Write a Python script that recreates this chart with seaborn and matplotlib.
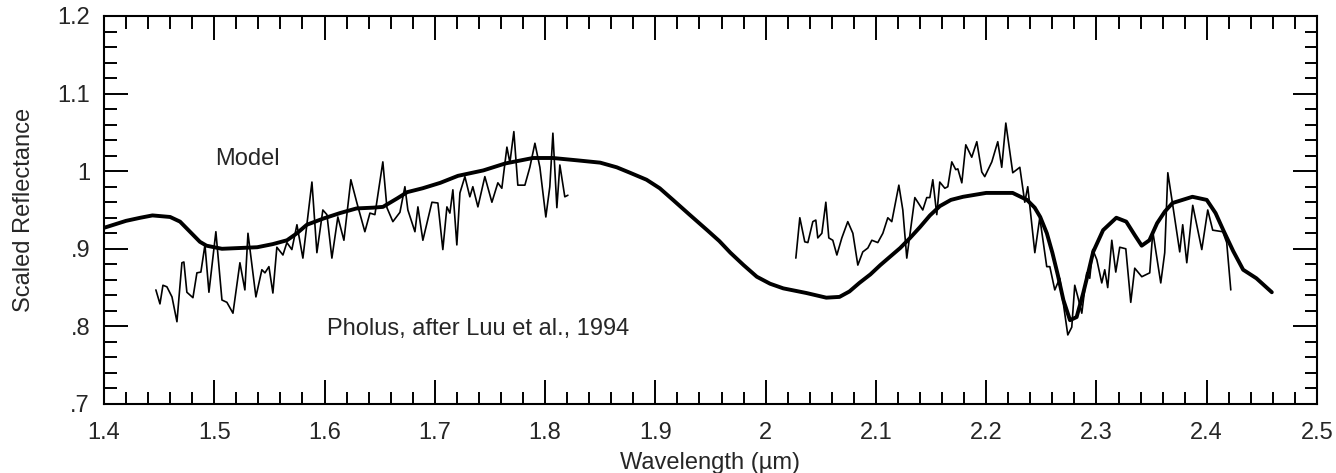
import numpy as np
import pandas as pd
import matplotlib
matplotlib.use("Agg")
import matplotlib.pyplot as plt
import seaborn as sns
from matplotlib.ticker import MultipleLocator

# =====================================
# Data
# =====================================

# Pholus spectrum, after Luu et al. 1994 (two pieces)
pholus_x1 = [1.4471, 1.4508, 1.4535, 1.4571, 1.4617, 1.4662, 1.4707, 1.4725,
             1.4752, 1.4807, 1.4843, 1.4879, 1.4916, 1.4952, 1.5015, 1.5070,
             1.5115, 1.5170, 1.5233, 1.5278, 1.5306, 1.5378, 1.5432, 1.5460,
             1.5496, 1.5532, 1.5568, 1.5623, 1.5659, 1.5704, 1.5750, 1.5804,
             1.5886, 1.5931, 1.5985, 1.6022, 1.6067, 1.6121, 1.6176, 1.6239,
             1.6294, 1.6366, 1.6412, 1.6457, 1.6529, 1.6566, 1.6620, 1.6684,
             1.6729, 1.6756, 1.6820, 1.6847, 1.6892, 1.6974, 1.7028, 1.7073,
             1.7110, 1.7137, 1.7164, 1.7200, 1.7228, 1.7273, 1.7318, 1.7345,
             1.7391, 1.7454, 1.7518, 1.7572, 1.7608, 1.7654, 1.7681, 1.7717,
             1.7753, 1.7817, 1.7862, 1.7908, 1.7953, 1.8007, 1.8043, 1.8071,
             1.8107, 1.8134, 1.8179, 1.8207]
pholus_y1 = [0.847, 0.829, 0.853, 0.851, 0.838, 0.806, 0.882, 0.883,
             0.844, 0.837, 0.869, 0.870, 0.905, 0.844, 0.922, 0.834,
             0.831, 0.817, 0.882, 0.847, 0.920, 0.838, 0.873, 0.869,
             0.877, 0.843, 0.902, 0.892, 0.908, 0.899, 0.931, 0.888,
             0.986, 0.895, 0.950, 0.944, 0.888, 0.941, 0.911, 0.989,
             0.959, 0.922, 0.946, 0.944, 1.012, 0.953, 0.935, 0.947,
             0.980, 0.950, 0.922, 0.954, 0.911, 0.960, 0.959, 0.899,
             0.954, 0.946, 0.976, 0.905, 0.972, 0.993, 0.967, 0.980,
             0.954, 0.993, 0.960, 0.985, 0.978, 1.031, 1.011, 1.051,
             0.982, 0.982, 1.005, 1.036, 1.005, 0.941, 0.980, 1.049,
             0.953, 1.008, 0.967, 0.969]

pholus_x2 = [2.0274, 2.0310, 2.0355, 2.0383, 2.0428, 2.0455, 2.0473, 2.0510,
             2.0546, 2.0573, 2.0609, 2.0646, 2.0691, 2.0745, 2.0791, 2.0836,
             2.0881, 2.0927, 2.0963, 2.1017, 2.1063, 2.1108, 2.1144, 2.1208,
             2.1244, 2.1280, 2.1353, 2.1380, 2.1425, 2.1461, 2.1489, 2.1516,
             2.1552, 2.1579, 2.1625, 2.1652, 2.1688, 2.1724, 2.1743, 2.1779,
             2.1815, 2.1869, 2.1915, 2.1960, 2.1987, 2.2051, 2.2105, 2.2141,
             2.2178, 2.2241, 2.2305, 2.2350, 2.2377, 2.2441, 2.2486, 2.2549,
             2.2577, 2.2622, 2.2667, 2.2740, 2.2776, 2.2803, 2.2831, 2.2867,
             2.2912, 2.2939, 2.2966, 2.3003, 2.3048, 2.3075, 2.3102, 2.3139,
             2.3175, 2.3211, 2.3266, 2.3311, 2.3347, 2.3411, 2.3483, 2.3511,
             2.3583, 2.3619, 2.3647, 2.3692, 2.3755, 2.3782, 2.3819, 2.3873,
             2.3955, 2.4009, 2.4054, 2.4145, 2.4181, 2.4218]
pholus_y2 = [0.888, 0.940, 0.909, 0.908, 0.935, 0.937, 0.914, 0.920,
             0.960, 0.914, 0.911, 0.892, 0.914, 0.935, 0.920, 0.879,
             0.896, 0.901, 0.911, 0.908, 0.920, 0.940, 0.935, 0.982,
             0.950, 0.888, 0.966, 0.960, 0.950, 0.966, 0.966, 0.989,
             0.944, 0.986, 0.978, 0.980, 1.012, 1.002, 1.003, 0.985,
             1.034, 1.018, 1.038, 0.999, 0.993, 1.012, 1.038, 1.005,
             1.062, 0.998, 1.005, 0.960, 0.980, 0.895, 0.940, 0.877,
             0.877, 0.847, 0.862, 0.789, 0.799, 0.853, 0.838, 0.817,
             0.869, 0.862, 0.899, 0.886, 0.856, 0.873, 0.850, 0.911,
             0.870, 0.902, 0.900, 0.831, 0.875, 0.864, 0.869, 0.922,
             0.856, 0.895, 0.998, 0.956, 0.896, 0.931, 0.882, 0.956,
             0.899, 0.950, 0.924, 0.922, 0.908, 0.847]

# Model spectrum
model_x = [1.400, 1.420, 1.433, 1.444, 1.460, 1.469, 1.478, 1.487, 1.493,
           1.507, 1.523, 1.539, 1.553, 1.566, 1.575, 1.584, 1.599, 1.614,
           1.629, 1.644, 1.653, 1.666, 1.675, 1.689, 1.705, 1.721, 1.744,
           1.764, 1.789, 1.807, 1.829, 1.850, 1.865, 1.877, 1.892, 1.904,
           1.916, 1.931, 1.947, 1.958, 1.968, 1.980, 1.992, 2.004, 2.016,
           2.037, 2.055, 2.067, 2.076, 2.085, 2.095, 2.104, 2.113, 2.122,
           2.131, 2.140, 2.149, 2.158, 2.168, 2.179, 2.200, 2.224, 2.237,
           2.244, 2.249, 2.255, 2.260, 2.265, 2.270, 2.276, 2.282, 2.288,
           2.293, 2.297, 2.306, 2.318, 2.327, 2.335, 2.341, 2.348, 2.355,
           2.362, 2.369, 2.387, 2.400, 2.408, 2.415, 2.424, 2.433, 2.445,
           2.459]
model_y = [0.927, 0.936, 0.940, 0.943, 0.941, 0.935, 0.922, 0.909, 0.904,
           0.900, 0.901, 0.902, 0.906, 0.911, 0.920, 0.931, 0.939, 0.946,
           0.952, 0.953, 0.954, 0.965, 0.973, 0.978, 0.985, 0.994, 1.001,
           1.010, 1.017, 1.017, 1.014, 1.011, 1.005, 0.998, 0.989, 0.978,
           0.963, 0.944, 0.924, 0.910, 0.895, 0.879, 0.864, 0.855, 0.849,
           0.843, 0.837, 0.838, 0.845, 0.856, 0.867, 0.879, 0.890, 0.901,
           0.914, 0.928, 0.943, 0.955, 0.963, 0.967, 0.972, 0.972, 0.963,
           0.953, 0.941, 0.920, 0.895, 0.866, 0.834, 0.808, 0.812, 0.843,
           0.872, 0.896, 0.924, 0.940, 0.935, 0.917, 0.904, 0.911, 0.933,
           0.948, 0.959, 0.967, 0.963, 0.946, 0.924, 0.897, 0.873, 0.862,
           0.844]

x_ticks = [1.4, 1.5, 1.6, 1.7, 1.8, 1.9, 2.0, 2.1, 2.2, 2.3, 2.4, 2.5]
x_tick_labels = ["1.4", "1.5", "1.6", "1.7", "1.8", "1.9", "2",
                 "2.1", "2.2", "2.3", "2.4", "2.5"]
y_ticks = [0.7, 0.8, 0.9, 1.0, 1.1, 1.2]
y_tick_labels = [".7", ".8", ".9", "1", "1.1", "1.2"]

# =====================================
# Frames
# =====================================

pholus_df = pd.concat([
    pd.DataFrame({"wavelength": pholus_x1, "reflectance": pholus_y1, "segment": 1}),
    pd.DataFrame({"wavelength": pholus_x2, "reflectance": pholus_y2, "segment": 2}),
], ignore_index=True)

model_df = pd.DataFrame({"wavelength": model_x, "reflectance": model_y})

# =====================================
# Plot
# =====================================

sns.set_style("white")
plt.rcParams["font.family"] = ["Liberation Sans", "DejaVu Sans"]

fig = plt.figure(figsize=(13.36, 4.73), dpi=100)
ax = fig.add_axes([0.0778, 0.1459, 0.9080, 0.8203])

sns.lineplot(
    data=pholus_df,
    x="wavelength",
    y="reflectance",
    units="segment",
    estimator=None,
    sort=False,
    color="black",
    linewidth=1.2,
    ax=ax
)

sns.lineplot(
    data=model_df,
    x="wavelength",
    y="reflectance",
    estimator=None,
    sort=False,
    color="black",
    linewidth=2.8,
    solid_joinstyle="round",
    ax=ax
)

ax.text(1.5006, 1.008, "Model", fontsize=17, ha="left", va="baseline")
ax.text(1.6022, 0.789, "Pholus, after Luu et al., 1994",
        fontsize=17, ha="left", va="baseline")

ax.set_xlim(1.4, 2.5)
ax.set_ylim(0.7, 1.2)

ax.set_xticks(x_ticks)
ax.set_xticklabels(x_tick_labels)
ax.set_yticks(y_ticks)
ax.set_yticklabels(y_tick_labels)
ax.xaxis.set_minor_locator(MultipleLocator(0.02))
ax.yaxis.set_minor_locator(MultipleLocator(0.02))

ax.tick_params(which="both", direction="in", top=True, right=True,
               bottom=True, left=True, color="black", width=1.4)
ax.tick_params(which="major", length=17, labelsize=17, pad=13)
ax.tick_params(which="minor", length=9)
ax.tick_params(axis="y", which="major", pad=10)

for spine in ax.spines.values():
    spine.set_linewidth(1.5)
    spine.set_color("black")

ax.set_xlabel("Wavelength (\u00b5m)", fontsize=17, labelpad=6)
ax.set_ylabel("Scaled Reflectance", fontsize=17, labelpad=16)

fig.savefig("out.png", dpi=100)
